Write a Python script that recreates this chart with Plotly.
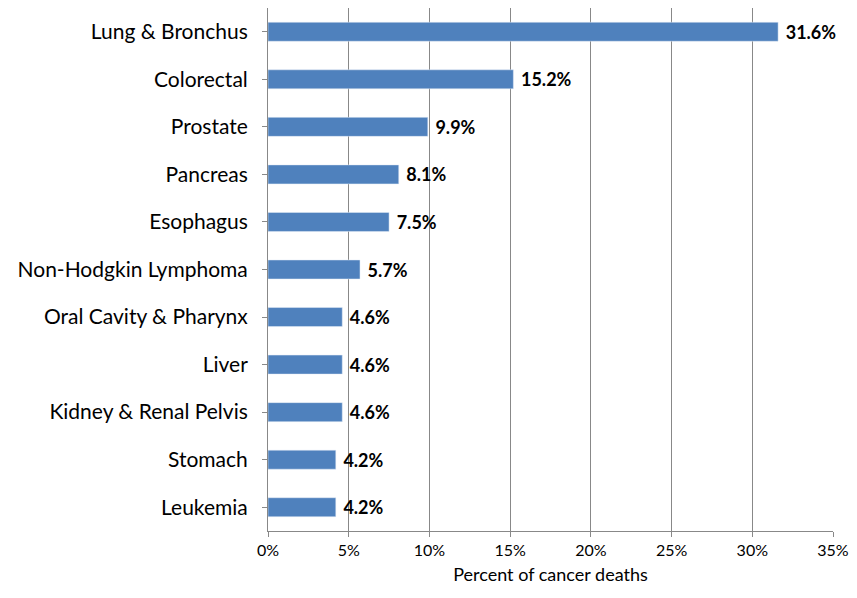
import plotly.graph_objects as go

categories = ["Lung & Bronchus","Colorectal","Prostate","Pancreas","Esophagus",
              "Non-Hodgkin Lymphoma","Oral Cavity & Pharynx","Liver",
              "Kidney & Renal Pelvis","Stomach","Leukemia"]
values = [31.6,15.2,9.9,8.1,7.5,5.7,4.6,4.6,4.6,4.2,4.2]
tick_vals = [0,5,10,15,20,25,30,35]
tick_text = ["0%","5%","10%","15%","20%","25%","30%","35%"]

fig = go.Figure(go.Bar(
    y=categories, x=values, orientation="h",
    marker=dict(color="#4F81BD"), width=0.4,
    text=[f" <b>{v:.1f}%</b>" for v in values], textposition="outside",
    constraintext="none",
    textfont=dict(size=18, color="black"), cliponaxis=False))
fig.update_layout(
    width=849, height=582, plot_bgcolor="white", paper_bgcolor="white",
    margin=dict(l=260, r=24, t=0, b=59, autoexpand=False), showlegend=False,
    font=dict(family="Lato", size=21, color="black"),
    xaxis=dict(range=[0,35], tickvals=tick_vals, ticktext=tick_text, automargin=False,
               ticklabeloverflow="allow",
               showgrid=True, gridcolor="#888888", gridwidth=1,
               showline=True, linecolor="#888888", ticks="outside", ticklen=5,
               tickcolor="#888888", tickfont=dict(size=16),
               title=dict(text="Percent of cancer deaths", font=dict(size=18), standoff=10)),
    yaxis=dict(autorange="reversed", showline=True, linecolor="#888888", automargin=False,
               ticks="outside", ticklen=5, tickcolor="#888888", ticklabelstandoff=10))
fig.write_html("out.html")
